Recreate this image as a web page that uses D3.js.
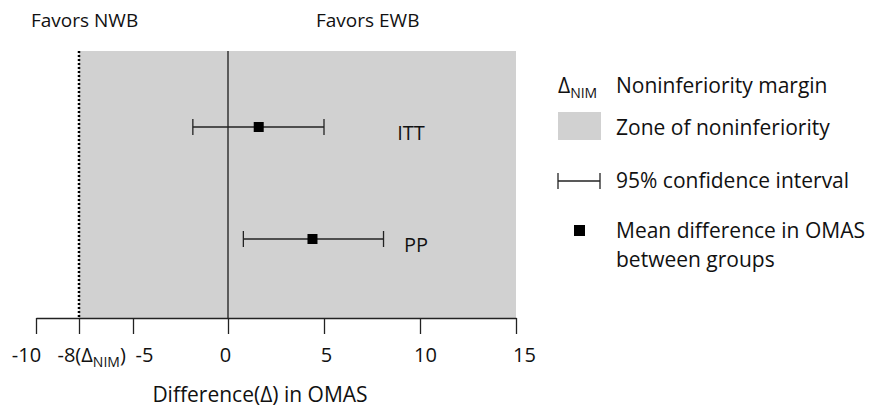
<!DOCTYPE html>
<html>
<head>
<meta charset="utf-8">
<script src="https://cdn.jsdelivr.net/npm/d3@7"></script>
<style>
  body { margin: 0; background: #fff; }
  svg text { font-family: "Open Sans", "Noto Sans", sans-serif; fill: #111; }
</style>
</head>
<body>
<svg id="chart" width="871" height="412"></svg>
<script>
// data
var groups = ["ITT", "PP"];
var means = [1.6, 4.4];
var lower = [-1.85, 0.8];
var upper = [5.0, 8.1];
var nimMargin = -8; // noninferiority margin
var tickValues = [-10, -8, -5, 0, 5, 10, 15];
var tickLabels = ["-10", "-8", "-5", "0", "5", "10", "15"];

var svg = d3.select("#chart");
var fs = 20;

// the original axis is not evenly spaced left of zero, so use a piecewise scale
var x = d3.scaleLinear().domain([-10, -8, -5, 0, 15]).range([36, 79, 133, 228, 516]);
var y = d3.scalePoint().domain(groups).range([127, 239]);
var plotTop = 51, plotBottom = 318;

// zone of noninferiority
svg.append("rect")
  .attr("x", x(nimMargin))
  .attr("y", plotTop)
  .attr("width", x(15) - x(nimMargin))
  .attr("height", plotBottom - plotTop)
  .attr("fill", "#d1d1d1");

// margin dotted line
svg.append("line")
  .attr("x1", x(nimMargin)).attr("x2", x(nimMargin))
  .attr("y1", plotTop).attr("y2", plotBottom)
  .attr("stroke", "#000")
  .attr("stroke-width", 2.5)
  .attr("stroke-dasharray", "2,2");

// zero line
svg.append("line")
  .attr("x1", x(0)).attr("x2", x(0))
  .attr("y1", plotTop).attr("y2", plotBottom)
  .attr("stroke", "#333")
  .attr("stroke-width", 1.5);

// x axis
var axis = d3.axisBottom(x)
  .tickValues(tickValues)
  .tickSize(16)
  .tickSizeOuter(0)
  .tickFormat(function (d, i) { return tickLabels[i]; });

var gx = svg.append("g")
  .attr("transform", "translate(0," + plotBottom + ")")
  .call(axis);
gx.select(".domain").attr("stroke", "#222").attr("stroke-width", 1.3);
gx.selectAll(".tick line").attr("stroke", "#222").attr("stroke-width", 1.3);
gx.selectAll(".tick text")
  .attr("y", 44)
  .attr("dy", 0)
  .attr("font-size", fs)
  .style("font-family", "'Open Sans', 'Noto Sans', sans-serif")
  .attr("fill", "#111");

// labels are nudged apart like in the original figure
var labelShift = { "-10": -10, "-8": 0, "-5": 11, "0": -3, "5": 2, "10": 5, "15": 8 };
gx.selectAll(".tick text").attr("dx", function (d) { return labelShift[d]; });

// the -8 label gets the (ΔNIM) suffix
gx.selectAll(".tick text").filter(function (d) { return d === nimMargin; })
  .text(null)
  .attr("text-anchor", "start")
  .attr("dx", -22)
  .each(function () {
    var t = d3.select(this);
    t.append("tspan").text("-8(Δ");
    t.append("tspan").attr("font-size", 14).attr("dy", 5).text("NIM");
    t.append("tspan").attr("dy", -5).text(")");
  });

svg.append("text")
  .attr("x", 260)
  .attr("y", 402)
  .attr("text-anchor", "middle")
  .attr("font-size", 21)
  .text("Difference(Δ) in OMAS");

// header labels
svg.append("text").attr("x", 31).attr("y", 27).attr("font-size", 19).text("Favors NWB");
svg.append("text").attr("x", 316).attr("y", 27).attr("font-size", 19).text("Favors EWB");

// confidence intervals
var rows = svg.append("g").selectAll("g")
  .data(groups)
  .enter()
  .append("g");

rows.append("line")
  .attr("x1", function (d, i) { return x(lower[i]); })
  .attr("x2", function (d, i) { return x(upper[i]); })
  .attr("y1", function (d) { return y(d); })
  .attr("y2", function (d) { return y(d); })
  .attr("stroke", "#222").attr("stroke-width", 1.3);

rows.selectAll(".cap")
  .data(function (d, i) { return [[lower[i], d], [upper[i], d]]; })
  .enter()
  .append("line")
  .attr("x1", function (c) { return x(c[0]); })
  .attr("x2", function (c) { return x(c[0]); })
  .attr("y1", function (c) { return y(c[1]) - 8; })
  .attr("y2", function (c) { return y(c[1]) + 8; })
  .attr("stroke", "#222").attr("stroke-width", 1.3);

rows.append("rect")
  .attr("x", function (d, i) { return x(means[i]) - 5; })
  .attr("y", function (d) { return y(d) - 5; })
  .attr("width", 10).attr("height", 10)
  .attr("fill", "#000");

rows.append("text")
  .attr("x", function (d) { return d === "ITT" ? 411 : 416; })
  .attr("y", function (d) { return y(d) + 13; })
  .attr("text-anchor", "middle")
  .attr("font-size", 20)
  .text(function (d) { return d; });

// legend
var lx = 558, tx = 616, lfs = 21;
var dl = svg.append("text").attr("x", lx).attr("y", 93).attr("font-size", lfs);
dl.append("tspan").text("Δ");
dl.append("tspan").attr("font-size", 14).attr("dy", 5).text("NIM");
svg.append("text").attr("x", tx).attr("y", 93).attr("font-size", lfs).text("Noninferiority margin");

svg.append("rect").attr("x", lx).attr("y", 112).attr("width", 43).attr("height", 28).attr("fill", "#d1d1d1");
svg.append("text").attr("x", tx).attr("y", 135).attr("font-size", lfs).text("Zone of noninferiority");

svg.append("line").attr("x1", lx).attr("x2", 600).attr("y1", 181).attr("y2", 181).attr("stroke", "#222").attr("stroke-width", 1.3);
svg.append("line").attr("x1", lx).attr("x2", lx).attr("y1", 173).attr("y2", 189).attr("stroke", "#222").attr("stroke-width", 1.3);
svg.append("line").attr("x1", 600).attr("x2", 600).attr("y1", 173).attr("y2", 189).attr("stroke", "#222").attr("stroke-width", 1.3);
svg.append("text").attr("x", tx).attr("y", 188).attr("font-size", lfs).text("95% confidence interval");

svg.append("rect").attr("x", 574).attr("y", 225).attr("width", 11).attr("height", 11).attr("fill", "#000");
svg.append("text").attr("x", tx).attr("y", 238).attr("font-size", lfs).text("Mean difference in OMAS");
svg.append("text").attr("x", tx).attr("y", 267).attr("font-size", lfs).text("between groups");
</script>
</body>
</html>
